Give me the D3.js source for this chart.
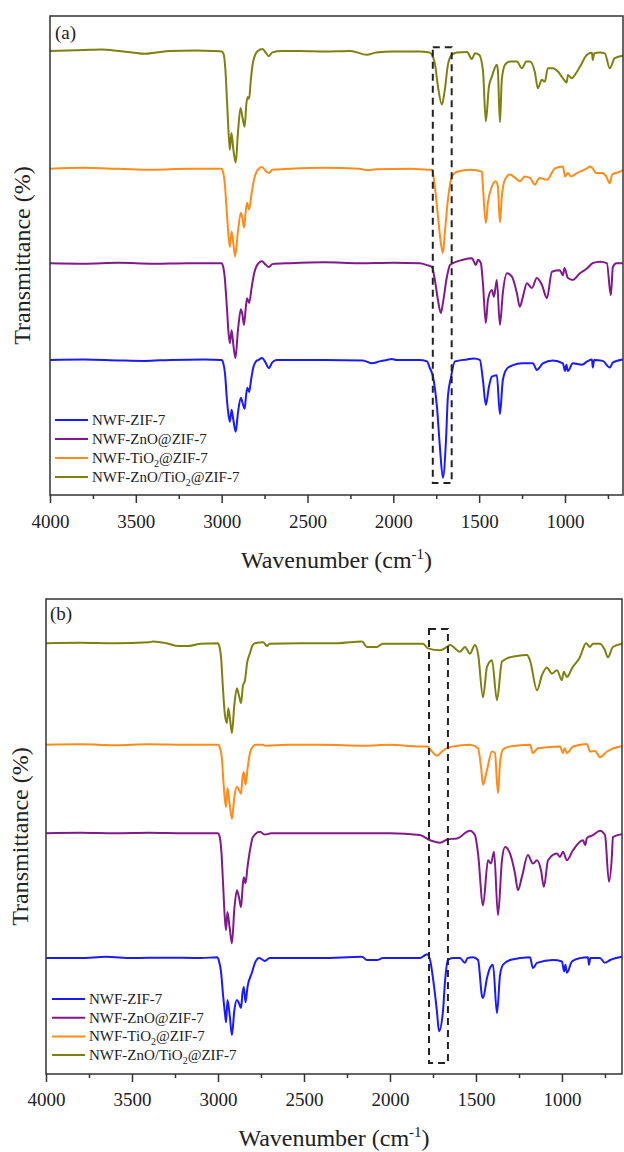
<!DOCTYPE html>
<html>
<head>
<meta charset="utf-8">
<script src="https://cdn.jsdelivr.net/npm/d3@7"></script>
<style>
  body { margin: 0; background: #fff; }
  text { font-family: "Liberation Serif", "Times New Roman", serif; fill: #222; }
</style>
</head>
<body>
<script>
// FTIR spectra, two panels. Values are relative transmittance (0 = baseline,
// negative = absorption). Offsets stack the curves.

const seriesNames = ["NWF-ZIF-7", "NWF-ZnO@ZIF-7", "NWF-TiO2@ZIF-7", "NWF-ZnO/TiO2@ZIF-7"];
const seriesColors = ["#1a1aff", "#801a8c", "#ff8c1a", "#7f800f"];

const majorTicks = [4000, 3500, 3000, 2500, 2000, 1500, 1000];
const minorTicks = [3750, 3250, 2750, 2250, 1750, 1250, 750];

// ---- panel (a) ----
const zifA = [[4000,0],[3800,0.1],[3600,-0.1],[3450,-0.2],[3300,0],[3100,0.1],[3000,0],[2992,-0.5],[2980,-3],[2970,-8],[2960,-11.5],[2952,-12.9],[2942,-10.4],[2932,-12.5],[2918,-15],[2905,-11],[2888,-7.9],[2878,-9],[2866,-10.2],[2858,-7.5],[2850,-5.8],[2840,-6.7],[2828,-4],[2815,-1.5],[2800,-0.3],[2785,0],[2765,0.4],[2745,-0.5],[2725,-1.7],[2705,-0.5],[2680,0],[2544,0],[2400,0],[2177,-0.1],[2125,-0.7],[2080,-0.3],[2037,0],[2010,0.2],[1980,0],[1850,0],[1804,-0.3],[1787,-1.7],[1769,-3.5],[1746,-9.7],[1729,-18],[1711,-24.6],[1694,-17.4],[1682,-7.6],[1665,-3.8],[1641,-0.3],[1571,0.1],[1530,0.3],[1496,0],[1478,-4.2],[1461,-9.4],[1443,-5.6],[1426,-3.5],[1397,-3.2],[1379,-11.3],[1362,-4.2],[1338,-1.8],[1303,-1.1],[1250,-0.7],[1187,-0.7],[1164,-2.1],[1129,-0.7],[1071,-0.1],[1012,-0.7],[1000,-2.3],[992,-1],[983,-2.3],[954,-0.7],[901,-1],[870,-0.3],[843,0.1],[838,-1.6],[830,0],[780,-0.2],[739,-1.6],[720,-0.5],[662,0.1]];
const znoA = [[4000,0],[3800,-0.1],[3600,0.1],[3400,-0.1],[3200,0],[3000,0],[2993,-0.5],[2982,-3],[2970,-9],[2960,-14.5],[2952,-16.7],[2942,-14],[2932,-17],[2920,-19.8],[2905,-14],[2888,-9.6],[2878,-11],[2870,-12.9],[2860,-9.5],[2852,-7.3],[2840,-8.3],[2825,-5],[2810,-2],[2795,-0.5],[2785,0],[2765,0.4],[2745,-0.3],[2725,-0.8],[2705,-0.2],[2600,0],[2400,0.2],[2200,0],[2000,0.1],[1845,0],[1804,-0.4],[1775,-0.8],[1758,-3.5],[1740,-7.7],[1723,-10.4],[1711,-8.3],[1688,-2.9],[1670,-0.4],[1653,0],[1595,0.7],[1542,1],[1519,-0.4],[1507,0.7],[1490,0],[1478,-4.2],[1461,-12.5],[1449,-7.7],[1426,-5.6],[1414,-7],[1397,-3.5],[1379,-12.9],[1362,-6.2],[1338,-2.1],[1309,-2.8],[1280,-6.3],[1263,-9.1],[1245,-7],[1222,-4.2],[1193,-5.2],[1164,-3.1],[1135,-4.5],[1105,-7.3],[1076,-1.8],[1030,-1.5],[1012,-2.5],[1003,-1],[983,-3.1],[954,-3.5],[913,-2.1],[872,-1.1],[838,0],[797,0.3],[756,0],[733,-6.7],[721,-0.8],[700,0],[662,0]];
const tioA = [[4000,0],[3800,0.2],[3600,0],[3400,-0.2],[3200,0],[3000,0],[2993,-0.5],[2982,-3],[2970,-9],[2960,-14],[2952,-16.3],[2942,-13.1],[2932,-15.5],[2922,-18.3],[2905,-13],[2888,-9.2],[2878,-10.5],[2870,-12.3],[2860,-9],[2852,-7.1],[2840,-8.5],[2825,-5],[2810,-2],[2795,-0.5],[2785,0],[2765,0.4],[2745,-0.4],[2725,-0.9],[2705,-0.2],[2600,0],[2400,0.2],[2200,0],[2150,-0.3],[2100,-0.1],[1900,0],[1800,-0.2],[1775,-0.2],[1758,-3.7],[1740,-9.9],[1723,-15.5],[1711,-17.6],[1700,-13.4],[1682,-6.5],[1659,-1.7],[1630,-0.6],[1550,-0.2],[1484,-0.6],[1478,-3.7],[1461,-11.3],[1449,-7.1],[1426,-3.7],[1403,-2.6],[1391,-3.7],[1379,-11.2],[1368,-5.8],[1350,-2.3],[1321,-1.2],[1290,-1.9],[1263,-2.6],[1235,-1.6],[1204,-1.9],[1175,-3.3],[1150,-1.9],[1105,-2.3],[1059,0.1],[1012,0.5],[1000,-1.6],[983,-0.9],[965,-1.6],[931,-0.9],[872,0.1],[855,0.5],[838,0.1],[820,-0.9],[785,-0.9],[760,-1.6],[739,-3],[725,-1.2],[680,-0.6],[662,-0.2]];
const znoTioA = [[4000,0],[3900,0.1],[3800,0.2],[3700,0.3],[3600,0],[3520,-0.3],[3450,-0.6],[3380,-0.3],[3300,0],[3150,0.1],[3050,0],[3000,-0.1],[2990,-0.5],[2978,-4],[2968,-11],[2958,-18],[2952,-20.6],[2943,-17.1],[2932,-20.5],[2918,-23.3],[2905,-17],[2890,-11.9],[2878,-14],[2866,-15.8],[2856,-11],[2848,-9.6],[2840,-10],[2830,-6],[2818,-2.5],[2805,-0.8],[2790,0],[2762,0.4],[2742,-0.4],[2725,-1.1],[2705,-0.3],[2650,0],[2544,0],[2400,-0.1],[2250,0],[2154,-0.8],[2100,-0.3],[2000,-0.1],[1850,-0.1],[1790,-0.3],[1775,-0.8],[1758,-2.6],[1740,-7.4],[1717,-11.2],[1700,-8.1],[1682,-2.9],[1659,-0.8],[1630,-0.3],[1571,-0.2],[1542,-1.7],[1525,-0.5],[1500,-0.8],[1478,-4],[1461,-14.7],[1443,-7.4],[1426,-5.4],[1397,-2.9],[1391,-4],[1379,-14.9],[1368,-6],[1350,-2.9],[1321,-2.2],[1280,-2.2],[1251,-3.6],[1225,-2.2],[1204,-2.2],[1175,-4.5],[1158,-7.8],[1135,-6],[1117,-6.4],[1100,-3.6],[1070,-3.6],[1041,-4.3],[1012,-5.7],[990,-6.6],[983,-5],[960,-5.7],[942,-5],[913,-3.3],[872,-0.8],[843,-0.35],[838,-1.9],[830,-0.5],[797,-0.3],[768,-0.5],[739,-3.6],[710,-1.5],[662,-1]];
const offsetsA = [28.2, 48.4, 68.1, 92.7];
const boxA = {wn: [1770, 1660], t: [2.5, 93.5]};

// ---- panel (b) ----
const zifB = [[4000,0],[3800,0],[3650,0.3],[3500,0],[3300,0.1],[3100,0],[3005,0.2],[2995,-0.5],[2982,-3],[2970,-8],[2960,-11.5],[2953,-13.5],[2945,-8.8],[2932,-12],[2919,-16.2],[2905,-11],[2890,-8.8],[2878,-9.5],[2866,-10.5],[2858,-7.5],[2850,-6.1],[2840,-9.3],[2828,-6],[2803,-3.1],[2785,-1],[2760,0],[2727,-0.6],[2700,0],[2400,0],[2163,0.3],[2134,-0.4],[2076,-0.4],[2041,0],[1826,0],[1797,0.6],[1785,0.8],[1767,-0.4],[1750,-4.2],[1727,-11.2],[1715,-15.4],[1692,-11.2],[1680,-4.9],[1663,-0.4],[1634,0],[1593,0],[1564,-1],[1550,0],[1517,0.2],[1488,-0.4],[1465,-8],[1459,-8.4],[1436,-4.2],[1419,-2.1],[1401,-1.4],[1378,-11.6],[1360,-3.5],[1343,-1.4],[1302,-0.4],[1244,0],[1186,0.2],[1169,-2.1],[1145,-1],[1052,-0.4],[1000,-0.7],[988,-2.8],[980,-1.4],[971,-3.1],[942,-0.7],[895,0],[849,0.2],[843,-1.4],[835,0],[779,0],[750,-1],[720,-0.4],[651,0.3]];
const znoB = [[4000,0],[3800,0.1],[3600,0],[3400,0.1],[3200,0],[3000,0],[2992,-0.5],[2980,-4],[2970,-11],[2960,-18],[2953,-20.4],[2945,-16.6],[2932,-20],[2919,-23.2],[2905,-16],[2890,-12],[2878,-13.5],[2866,-15.6],[2856,-11],[2850,-9.3],[2840,-10.5],[2828,-7],[2814,-3.6],[2797,-0.8],[2756,0.3],[2727,-0.3],[2690,0],[2400,0],[2000,0],[1826,-0.4],[1767,-1.5],[1709,-2],[1663,-1.3],[1611,-1.1],[1535,0.5],[1506,-0.4],[1488,-4.3],[1459,-15.2],[1430,-5.7],[1413,-6.4],[1395,-3.9],[1372,-17.3],[1349,-5.7],[1331,-2.9],[1302,-4.3],[1273,-8.5],[1256,-12],[1233,-9.2],[1198,-4.6],[1169,-6.4],[1145,-5.7],[1122,-7.8],[1105,-11.3],[1081,-5.7],[1029,-4.3],[1012,-5],[994,-3.9],[971,-5.7],[936,-3.6],[878,-1.5],[865,-2.5],[855,-1],[820,-0.4],[779,0.5],[750,-0.4],[727,-10.2],[709,-4.3],[704,-0.8],[651,-0.2]];
const tioB = [[4000,0],[3800,0.1],[3600,-0.1],[3400,0.1],[3200,0],[3000,0],[2990,-0.5],[2977,-3],[2968,-8],[2960,-11.5],[2953,-13.1],[2945,-9.1],[2932,-12.5],[2919,-15.6],[2905,-11],[2890,-8.8],[2878,-9.5],[2866,-10.3],[2858,-7],[2850,-5.7],[2840,-8.4],[2828,-5],[2814,-1.7],[2795,-0.3],[2785,0],[2740,0],[2720,-0.2],[2600,0],[2400,0],[2150,-0.2],[2000,0],[1826,-0.35],[1785,-0.35],[1756,-1.4],[1727,-2.3],[1698,-1.4],[1669,-0.7],[1634,-0.35],[1535,0],[1488,-0.7],[1471,-4.6],[1459,-8.4],[1436,-5.3],[1407,-1.4],[1390,-1.7],[1372,-10.2],[1360,-3.7],[1343,-1],[1302,-0.35],[1186,0],[1169,-1.75],[1140,-0.7],[1012,-0.35],[994,-1.75],[985,-0.7],[971,-1.75],[936,-0.35],[855,0.2],[837,-1.4],[808,-1.3],[779,-2.6],[738,-1.4],[663,-0.35],[651,-0.3]];
const znoTioB = [[4000,0],[3800,0.1],[3600,0],[3400,0.2],[3378,0.35],[3300,0],[3230,-0.6],[3170,-0.6],[3100,-0.1],[3000,0],[2993,-0.5],[2982,-3],[2972,-9],[2960,-15],[2948,-16.8],[2940,-13.7],[2930,-16],[2919,-18.9],[2905,-13],[2890,-9.5],[2878,-11],[2866,-12.6],[2855,-9],[2843,-7.8],[2830,-4],[2814,-2.1],[2800,-0.5],[2785,0],[2738,0.2],[2715,-0.6],[2700,-0.1],[2523,0],[2300,0],[2163,0.35],[2134,-0.8],[2076,-0.8],[2041,-0.1],[1808,-0.1],[1779,-1.1],[1709,-1.5],[1669,-0.8],[1651,-0.4],[1593,-1.8],[1564,-0.8],[1535,-2.2],[1506,-0.4],[1488,-2.2],[1459,-11.4],[1436,-5],[1407,-3.6],[1378,-12],[1349,-3.9],[1320,-3.2],[1262,-2.7],[1204,-2.5],[1186,-3.6],[1145,-9.9],[1116,-6.7],[1088,-5.1],[1058,-6.4],[1029,-5.7],[1000,-7.8],[990,-6],[971,-7.1],[942,-5.3],[895,-2.9],[860,0],[837,-0.8],[820,-0.1],[779,-0.1],[750,-1.5],[733,-3],[704,-0.8],[651,-0.1]];
const offsetsB = [24.4, 50.7, 69.3, 90.7];
const boxB = {wn: [1773, 1663], t: [2.3, 93.7]};

// layout of the two panels (pixels)
const panels = [
  {tag: "(a)", spectra: [zifA, znoA, tioA, znoTioA], offsets: offsetsA, box: boxA, wnRight: 662,
   left: 50, top: 16, right: 623, bottom: 495, tagX: 55, tagY: 39,
   legendX: 55, legendY: 420, legendGap: 19, tickPad: 12, xLabelY: 568, yLabelX: 30},
  {tag: "(b)", spectra: [zifB, znoB, tioB, znoTioB], offsets: offsetsB, box: boxB, wnRight: 651,
   left: 46, top: 599, right: 622, bottom: 1074, tagX: 50, tagY: 620,
   legendX: 52, legendY: 999, legendGap: 18.7, tickPad: 11, xLabelY: 1146, yLabelX: 28}
];

const svg = d3.select("body").append("svg")
  .attr("width", 624)
  .attr("height", 1152);

panels.forEach(p => {
  const x = d3.scaleLinear().domain([4000, p.wnRight]).range([p.left, p.right]);
  const y = d3.scaleLinear().domain([0, 100]).range([p.bottom, p.top]);
  const g = svg.append("g");

  // spectra
  p.spectra.forEach((s, i) => {
    const line = d3.line()
      .x(d => x(d[0]))
      .y(d => y(p.offsets[i] + d[1]))
      .curve(d3.curveMonotoneX);
    g.append("path")
      .datum(s)
      .attr("fill", "none")
      .attr("stroke", seriesColors[i])
      .attr("stroke-width", 2)
      .attr("stroke-linejoin", "round")
      .attr("d", line);
  });

  // dashed box round the C=O band
  g.append("rect")
    .attr("x", x(p.box.wn[0]))
    .attr("y", y(p.box.t[1]))
    .attr("width", x(p.box.wn[1]) - x(p.box.wn[0]))
    .attr("height", y(p.box.t[0]) - y(p.box.t[1]))
    .attr("fill", "none")
    .attr("stroke", "#222")
    .attr("stroke-width", 2)
    .attr("stroke-dasharray", "7,5");

  // frame
  g.append("rect")
    .attr("x", p.left).attr("y", p.top)
    .attr("width", p.right - p.left).attr("height", p.bottom - p.top)
    .attr("fill", "none").attr("stroke", "#333").attr("stroke-width", 1.5);

  // bottom axis: major ticks with labels, minor ticks without
  const major = g.append("g")
    .attr("transform", `translate(0,${p.bottom})`)
    .call(d3.axisBottom(x).tickValues(majorTicks).tickSize(8).tickPadding(p.tickPad).tickFormat(d3.format("d")));
  major.select(".domain").remove();
  major.selectAll("line").attr("stroke", "#333").attr("stroke-width", 1.5);
  major.selectAll("text")
    .style("font-family", "'Liberation Serif', serif")
    .style("font-size", "19px")
    .attr("fill", "#222");

  const minor = g.append("g")
    .attr("transform", `translate(0,${p.bottom})`)
    .call(d3.axisBottom(x).tickValues(minorTicks).tickSize(4).tickFormat(""));
  minor.select(".domain").remove();
  minor.selectAll("line").attr("stroke", "#333").attr("stroke-width", 1.5);

  // axis titles
  const xl = g.append("text")
    .attr("x", (p.left + p.right) / 2)
    .attr("y", p.xLabelY)
    .attr("text-anchor", "middle")
    .style("font-size", "24px");
  xl.append("tspan").text("Wavenumber (cm");
  xl.append("tspan").attr("dy", -9).style("font-size", "15px").text("-1");
  xl.append("tspan").attr("dy", 9).text(")");

  g.append("text")
    .attr("transform", `translate(${p.yLabelX},${(p.top + p.bottom) / 2}) rotate(-90)`)
    .attr("text-anchor", "middle")
    .style("font-size", "24px")
    .text("Transmittance (%)");

  // panel tag
  g.append("text")
    .attr("x", p.tagX).attr("y", p.tagY)
    .style("font-size", "19px")
    .text(p.tag);

  // legend
  seriesNames.forEach((name, i) => {
    const ly = p.legendY + i * p.legendGap;
    g.append("line")
      .attr("x1", p.legendX).attr("x2", p.legendX + 33)
      .attr("y1", ly).attr("y2", ly)
      .attr("stroke", seriesColors[i]).attr("stroke-width", 2);
    const t = g.append("text")
      .attr("x", p.legendX + 37).attr("y", ly + 5)
      .style("font-size", "15px");
    // TiO2 gets a subscript 2
    const parts = name.split("TiO2");
    t.append("tspan").text(parts[0]);
    if (parts.length > 1) {
      t.append("tspan").text("TiO");
      t.append("tspan").attr("dy", 4).style("font-size", "10px").text("2");
      t.append("tspan").attr("dy", -4).text(parts[1]);
    }
  });
});
</script>
</body>
</html>
